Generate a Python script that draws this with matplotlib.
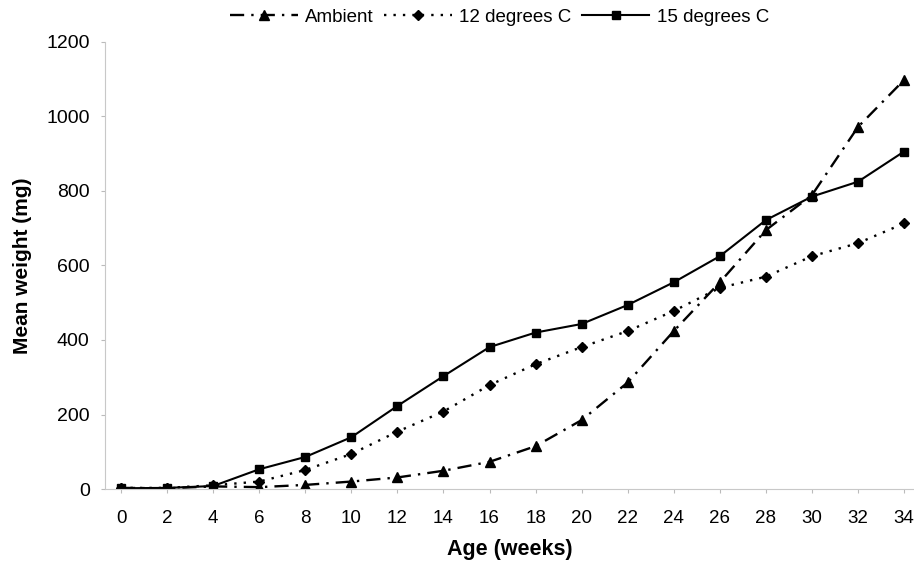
import numpy as np
import matplotlib.pyplot as plt

plt.rcParams['font.family'] = ['Liberation Sans', 'DejaVu Sans']

# mean weight (mg) by age, three rearing temperatures
weeks = [0, 2, 4, 6, 8, 10, 12, 14, 16, 18, 20, 22, 24, 26, 28, 30, 32, 34]
ambient = [3, 2, 7, 5, 11, 20, 31, 49, 73, 115, 185, 286, 424, 555, 695, 789, 972, 1098]
deg12 = [3, 3, 10, 20, 51, 94, 154, 208, 279, 335, 381, 424, 478, 540, 570, 625, 660, 713]
deg15 = [2, 3, 8, 53, 86, 139, 223, 303, 381, 420, 443, 494, 555, 625, 722, 785, 825, 906]

fig = plt.figure(figsize=(9.14, 5.65), dpi=100)
ax = fig.add_axes([0.1149, 0.1345, 0.8851, 0.7912])

ax.plot(weeks, ambient, color='black', lw=1.7, ls=(0, (6, 3, 1, 3)),
        marker='^', ms=6.5, label='Ambient')
ax.plot(weeks, deg12, color='black', lw=1.7, ls=(0, (1, 3)),
        marker='D', ms=5, label='12 degrees C')
ax.plot(weeks, deg15, color='black', lw=1.5, ls='-',
        marker='s', ms=5.5, label='15 degrees C')

ax.set_xlim(-0.695, 34.43)
ax.set_ylim(0, 1200)
ax.set_xticks(weeks)
ax.set_yticks(np.arange(0, 1201, 200))
ax.tick_params(axis='x', length=3, color='#bbbbbb', labelsize=13.5, pad=12)
ax.tick_params(axis='y', length=3, color='#bbbbbb', labelsize=14, pad=8)

for side in ['top', 'right']:
    ax.spines[side].set_visible(False)
for side in ['left', 'bottom']:
    ax.spines[side].set_color('#c8c8c8')
    ax.spines[side].set_linewidth(0.8)

ax.set_xlabel('Age (weeks)', fontsize=15.5, fontweight='bold', labelpad=9)
ax.set_ylabel('Mean weight (mg)', fontsize=15, fontweight='bold', labelpad=10)

ax.legend(loc='center', bbox_to_anchor=(0.488, 1.056), ncol=3, frameon=False,
          fontsize=13.5, handlelength=3.6, columnspacing=0.55, handletextpad=0.4,
          borderaxespad=0)

fig.savefig('out.png', dpi=100)
